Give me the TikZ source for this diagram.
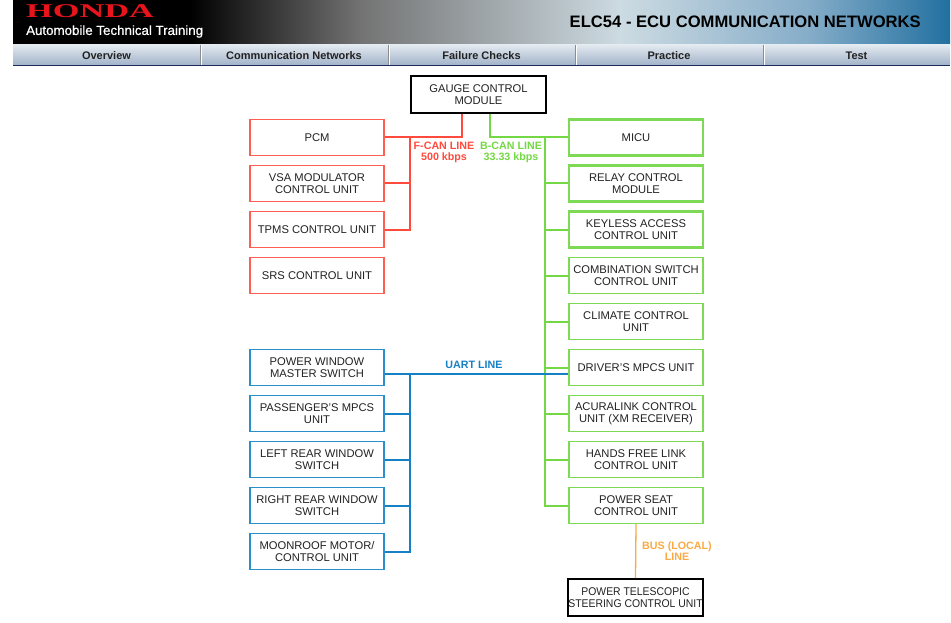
\documentclass[tikz,border=0pt]{standalone}
\usepackage{fontspec}
\usepackage{graphicx}
\setmainfont{Liberation Sans}
\newfontfamily\hondafont{Liberation Serif}
\newfontfamily\attfont[FakeBold=0.6]{Liberation Sans}
\usetikzlibrary{calc}
\definecolor{boxred}{HTML}{FF5F52}
\definecolor{linered}{HTML}{FF4A3D}
\definecolor{boxgreen}{HTML}{7ED957}
\definecolor{linegreen}{HTML}{74D844}
\definecolor{boxblue}{HTML}{2B8FCC}
\definecolor{lineblue}{HTML}{1580C4}
\definecolor{lineorange}{HTML}{F9AA45}
\definecolor{hondared}{HTML}{E8141C}
\definecolor{navtop}{HTML}{E2E9F0}
\definecolor{navbot}{HTML}{A2B3C9}
\definecolor{navline}{HTML}{1B2C5C}
\definecolor{txt}{HTML}{222222}
\tikzset{
  ecubox/.style={draw, minimum width=134pt, minimum height=36pt, align=center,
    inner sep=0pt, text=txt, font=\fontsize{11.2}{12}\selectfont},
  redbox/.style={ecubox, draw=boxred, line width=1.4pt},
  greenbox/.style={ecubox, draw=boxgreen, line width=1.4pt},
  greenthick/.style={ecubox, draw=boxgreen, line width=2.2pt},
  bluebox/.style={ecubox, draw=boxblue, line width=1.4pt},
  blackbox/.style={ecubox, draw=black, line width=1.5pt, minimum width=135pt, minimum height=37pt},
  redline/.style={draw=linered, line width=2pt},
  greenline/.style={draw=linegreen, line width=2pt},
  blueline/.style={draw=lineblue, line width=2pt},
  orangeline/.style={draw=lineorange, line width=1.3pt},
  lbl/.style={font=\bfseries\fontsize{10.7}{11.4}\selectfont, align=center, inner sep=0pt},
  navtxt/.style={font=\bfseries\fontsize{11}{12}\selectfont, text=txt, inner sep=0pt},
}
\begin{document}
\begin{tikzpicture}[x=1pt,y=-1pt]
\useasboundingbox (0,0) rectangle (951,623);
\fill[white] (0,0) rectangle (951,623);
% header band
\fill[black] (13,0) rectangle (191,45);
\shade[left color=black, right color=black!55!white] (190,0) rectangle (361,45);
\shade[left color=black!55!white, right color={rgb,255:red,205;green,219;blue,226}] (360,0) rectangle (621,45);
\shade[left color={rgb,255:red,205;green,219;blue,226}, right color={rgb,255:red,132;green,172;blue,200}] (620,0) rectangle (811,45);
\shade[left color={rgb,255:red,132;green,172;blue,200}, right color={rgb,255:red,34;green,112;blue,160}] (810,0) rectangle (950,45);
\node[anchor=west, inner sep=0pt, text=hondared] (honda) at (26,11)
  {\scalebox{1.76}[1]{\hondafont\bfseries\fontsize{19.5}{19.5}\selectfont HONDA}};
\node[anchor=west, inner sep=0pt, text=white, font=\attfont\fontsize{13.3}{14}\selectfont] (att) at (26,31.5)
  {Automobile Technical Training};
\node[anchor=east, inner sep=0pt, text=black, font=\bfseries\fontsize{16.6}{17}\selectfont] (title) at (921,21.5)
  {ELC54 - ECU COMMUNICATION NETWORKS};
% nav bar
\shade[top color=navtop, bottom color=navbot] (13,45) rectangle (950,65);
\draw[navline, line width=1.5pt] (13,65.5) -- (950,65.5);
\foreach \xx in {200,388,575,763} {
  \draw[black!45, line width=0.8pt] (\xx,45) -- (\xx,65);
  \draw[white, line width=0.6pt] (\xx+1,45) -- (\xx+1,65);
}
\node[navtxt] (nav1) at (106.5,56) {Overview};
\node[navtxt] (nav2) at (294,56) {Communication Networks};
\node[navtxt] (nav3) at (481.5,56) {Failure Checks};
\node[navtxt] (nav4) at (669,56) {Practice};
\node[navtxt] (nav5) at (856.5,56) {Test};
% boxes
\node[blackbox] (gcm) at (478.5,94.5) {GAUGE CONTROL\\MODULE};
\node[redbox] (pcm) at (317,137.5) {PCM};
\node[redbox] (vsa) at (317,183.5) {VSA MODULATOR\\CONTROL UNIT};
\node[redbox] (tpms) at (317,229.5) {TPMS CONTROL UNIT};
\node[redbox] (srs) at (317,275.5) {SRS CONTROL UNIT};
\node[greenthick] (micu) at (636,137.5) {MICU};
\node[greenthick] (relay) at (636,183.5) {RELAY CONTROL\\MODULE};
\node[greenthick] (keyless) at (636,229.5) {KEYLESS ACCESS\\CONTROL UNIT};
\node[greenbox] (combi) at (636,275.5) {COMBINATION SWITCH\\CONTROL UNIT};
\node[greenbox] (climate) at (636,321.5) {CLIMATE CONTROL\\UNIT};
\node[greenbox] (driver) at (636,367.5) {DRIVER'S MPCS UNIT};
\node[greenbox] (acura) at (636,413.5) {ACURALINK CONTROL\\UNIT (XM RECEIVER)};
\node[greenbox] (hands) at (636,459.5) {HANDS FREE LINK\\CONTROL UNIT};
\node[greenbox] (seat) at (636,505.5) {POWER SEAT\\CONTROL UNIT};
\node[bluebox] (pw) at (317,367.5) {POWER WINDOW\\MASTER SWITCH};
\node[bluebox] (pass) at (317,413.5) {PASSENGER'S MPCS\\UNIT};
\node[bluebox] (lrw) at (317,459.5) {LEFT REAR WINDOW\\SWITCH};
\node[bluebox] (rrw) at (317,505.5) {RIGHT REAR WINDOW\\SWITCH};
\node[bluebox] (moon) at (317,551.5) {MOONROOF MOTOR/\\CONTROL UNIT};
\node[blackbox, line width=2pt] (tele) at (635.5,597.5)
  {\raisebox{-2pt}[\height][\depth]{\scalebox{0.93}[1]{\begin{tabular}{@{}c@{}}POWER TELESCOPIC\\STEERING CONTROL UNIT\end{tabular}}}};
% bus coordinates
\coordinate (rbus) at (410,0);
\coordinate (gbus) at (545,0);
\coordinate (bbus) at (410,0);
% F-CAN
\draw[redline] ([xshift=52pt]gcm.south west) |- (pcm.east);
\draw[redline] (pcm.east -| rbus) |- (tpms.east);
\draw[redline] (vsa.east) -- (vsa.east -| rbus);
% B-CAN
\draw[greenline] ([xshift=80pt]gcm.south west) |- (micu.west);
\draw[greenline] (micu.west -| gbus) |- (seat.west);
\foreach \n in {relay,keyless,combi,climate,driver,acura,hands}
  \draw[greenline] (\n.west -| gbus) -- (\n.west);
% UART
\draw[blueline] ([yshift=-6pt]pw.east) -- ([yshift=-6pt]driver.west);
\draw[blueline] ([yshift=-6pt]pw.east -| bbus) |- (moon.east);
\foreach \n in {pass,lrw,rrw}
  \draw[blueline] (\n.east) -- (\n.east -| bbus);
% local bus
\draw[orangeline] (seat.south) -- (tele.north);
% labels
\node[lbl, text=linered] (fcan) at (444,152.5) {F-CAN LINE\\500 kbps};
\node[lbl, text=linegreen] (bcan) at (511,152.5) {B-CAN LINE\\33.33 kbps};
\node[lbl, text=lineblue] (uart) at (474,365) {UART LINE};
\node[lbl, text=lineorange] (bus) at (677,551) {BUS (LOCAL)\\LINE};
\end{tikzpicture}
\end{document}
